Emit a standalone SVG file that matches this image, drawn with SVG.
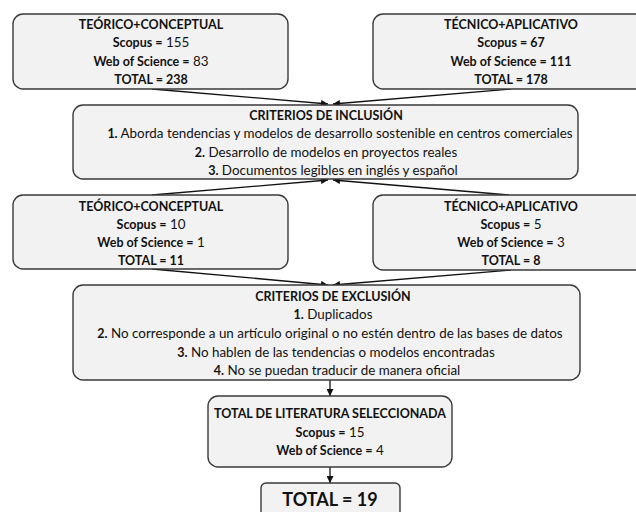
<svg xmlns="http://www.w3.org/2000/svg" width="636" height="512" viewBox="0 0 636 512">
<style>
.box{fill:#f2f2f2;stroke:#3a3a3a;stroke-width:1.4}
.t{font-family:Lato,"Open Sans","Liberation Sans",sans-serif;font-size:13.4px;fill:#111;text-anchor:middle}
.b{font-weight:bold;font-size:12.5px}
.big{font-size:18px;font-weight:bold}
.c{fill:none;stroke:#111;stroke-width:1.3}
</style>
<defs>
<marker id="ah" viewBox="0 0 8 8" refX="8" refY="4" markerWidth="8" markerHeight="7" markerUnits="userSpaceOnUse" orient="auto">
<path d="M0,0 L8,4 L0,8 Z" fill="#111"/>
</marker>
</defs>
<rect width="636" height="512" fill="#fff"/>
<g id="connectors">
<path class="c" d="M152,89 L328,104" marker-end="url(#ah)"/>
<path class="c" d="M511,89 L333,104" marker-end="url(#ah)"/>
<path class="c" d="M152,195 L328,180" marker-end="url(#ah)"/>
<path class="c" d="M509,195 L333,180" marker-end="url(#ah)"/>
<path class="c" d="M152,269 L328,285" marker-end="url(#ah)"/>
<path class="c" d="M511,270 L333,285" marker-end="url(#ah)"/>
<path class="c" d="M330,380 L330,396" marker-end="url(#ah)"/>
<path class="c" d="M330,467 L330,483" marker-end="url(#ah)"/>
</g>
<g id="teorico1">
<rect class="box" x="13" y="14" width="275" height="75" rx="10"/>
<text class="t b" x="151" y="29">TEÓRICO+CONCEPTUAL</text>
<text class="t" x="151" y="47"><tspan class="b">Scopus =</tspan> 155</text>
<text class="t" x="151" y="65.5"><tspan class="b">Web of Science =</tspan> 83</text>
<text class="t b" x="151" y="84">TOTAL = 238</text>
</g>
<g id="tecnico1">
<rect class="box" x="373" y="14" width="276" height="75" rx="10"/>
<text class="t b" x="511" y="29">TÉCNICO+APLICATIVO</text>
<text class="t b" x="511" y="47">Scopus = 67</text>
<text class="t b" x="511" y="65.5">Web of Science = 111</text>
<text class="t b" x="511" y="84">TOTAL = 178</text>
</g>
<g id="inclusion">
<rect class="box" x="73" y="105" width="505" height="74" rx="10"/>
<text class="t b" x="326" y="120">CRITERIOS DE INCLUSIÓN</text>
<text class="t" x="340" y="138"><tspan class="b">1.</tspan> Aborda tendencias y modelos de desarrollo sostenible en centros comerciales</text>
<text class="t" x="326" y="157"><tspan class="b">2.</tspan> Desarrollo de modelos en proyectos reales</text>
<text class="t" x="333" y="175"><tspan class="b">3.</tspan> Documentos legibles en inglés y español</text>
</g>
<g id="teorico2">
<rect class="box" x="13" y="195" width="275" height="74" rx="10"/>
<text class="t b" x="151" y="211">TEÓRICO+CONCEPTUAL</text>
<text class="t" x="151" y="229"><tspan class="b">Scopus =</tspan> 10</text>
<text class="t" x="151" y="247"><tspan class="b">Web of Science =</tspan> 1</text>
<text class="t b" x="151" y="265">TOTAL = 11</text>
</g>
<g id="tecnico2">
<rect class="box" x="373" y="195" width="276" height="75" rx="10"/>
<text class="t b" x="511" y="211">TÉCNICO+APLICATIVO</text>
<text class="t" x="511" y="229"><tspan class="b">Scopus =</tspan> 5</text>
<text class="t" x="511" y="247"><tspan class="b">Web of Science =</tspan> 3</text>
<text class="t b" x="511" y="265">TOTAL = 8</text>
</g>
<g id="exclusion">
<rect class="box" x="73" y="285" width="507" height="95" rx="10"/>
<text class="t b" x="333" y="301">CRITERIOS DE EXCLUSIÓN</text>
<text class="t" x="333" y="319"><tspan class="b">1.</tspan> Duplicados</text>
<text class="t" x="330" y="338"><tspan class="b">2.</tspan> No corresponde a un artículo original o no estén dentro de las bases de datos</text>
<text class="t" x="336" y="357"><tspan class="b">3.</tspan> No hablen de las tendencias o modelos encontradas</text>
<text class="t" x="337" y="375"><tspan class="b">4.</tspan> No se puedan traducir de manera oficial</text>
</g>
<g id="seleccionada">
<rect class="box" x="208" y="396" width="244" height="71" rx="10"/>
<text class="t b" x="330" y="418">TOTAL DE LITERATURA SELECCIONADA</text>
<text class="t" x="330" y="437"><tspan class="b">Scopus =</tspan> 15</text>
<text class="t" x="330" y="455"><tspan class="b">Web of Science =</tspan> 4</text>
</g>
<g id="total">
<rect class="box" x="261" y="483" width="139" height="40" rx="5"/>
<text class="t big" x="330" y="506">TOTAL = 19</text>
</g>
</svg>
